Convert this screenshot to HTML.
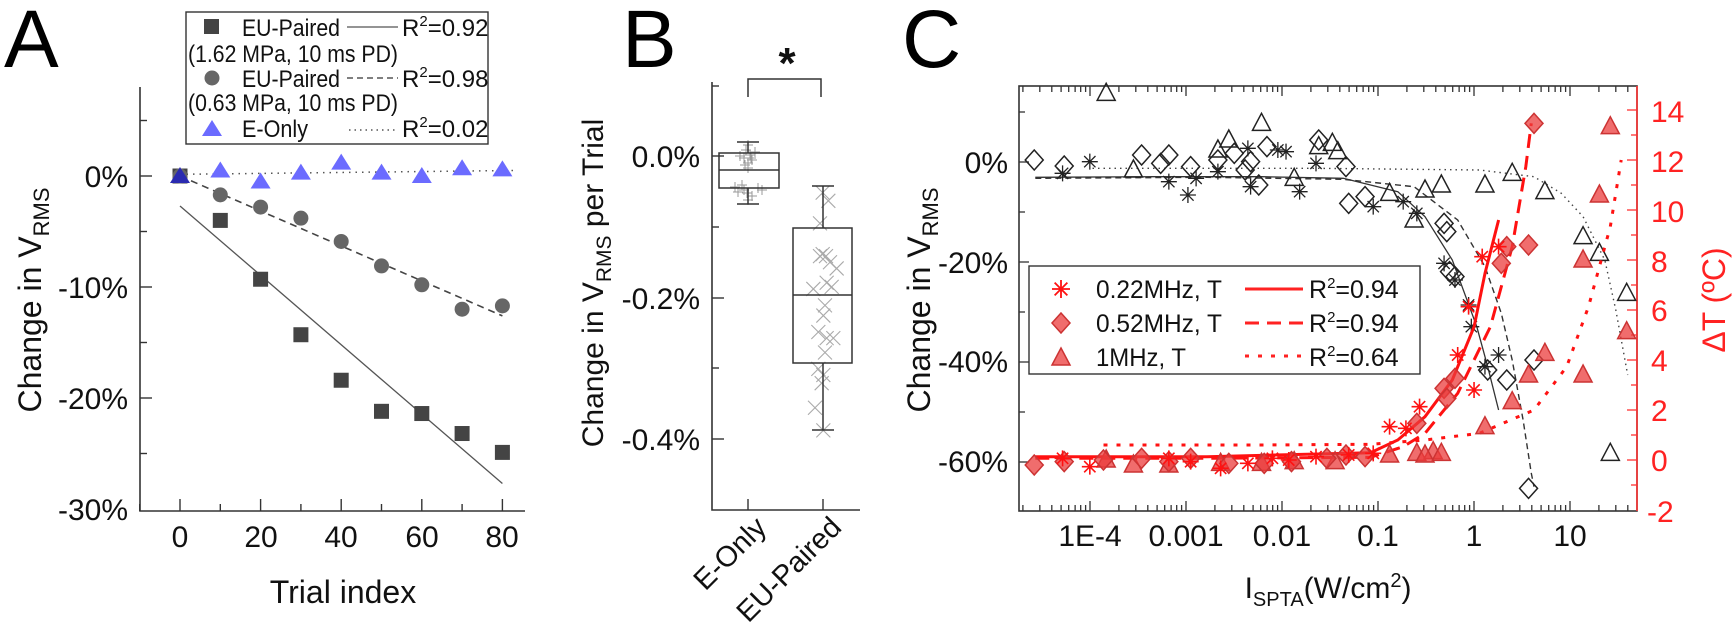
<!DOCTYPE html>
<html><head><meta charset="utf-8"><style>
html,body{margin:0;padding:0;background:#fff;}
svg{display:block;font-family:"Liberation Sans",Arial,sans-serif;}
</style></head><body>
<svg id="s" width="1733" height="644" viewBox="0 0 1733 644" xmlns="http://www.w3.org/2000/svg">
<rect width="1733" height="644" fill="#fff"/>
<text x="4" y="67" font-size="82">A</text>
<text x="622" y="67" font-size="82">B</text>
<text x="902" y="67" font-size="82">C</text>

<g stroke="#333" stroke-width="1.6" fill="none">
<path d="M140,87 V511 H525"/>
</g>
<g id="Aticks" stroke="#333" stroke-width="1.4"></g>
<g font-size="30" text-anchor="end" fill="#111">
<text x="128" y="187">0%</text>
<text x="128" y="298">-10%</text>
<text x="128" y="409">-20%</text>
<text x="128" y="520">-30%</text>
</g>
<g font-size="30" text-anchor="middle" fill="#111">
<text x="180" y="547">0</text>
<text x="261" y="547">20</text>
<text x="341" y="547">40</text>
<text x="422" y="547">60</text>
<text x="502" y="547">80</text>
<text x="343" y="603" font-size="32">Trial index</text>
</g>
<text transform="translate(41,300) rotate(-90)" font-size="32" text-anchor="middle" fill="#111">Change in V<tspan font-size="22" dy="8">RMS</tspan></text>
<g id="Adata"></g>
<rect x="186" y="12" width="302" height="132" fill="#fff" stroke="#333" stroke-width="1.4"/>
<g font-size="24" fill="#111">
<rect x="204" y="19" width="15" height="15" fill="#444"/>
<text x="242" y="36" textLength="98" lengthAdjust="spacingAndGlyphs">EU-Paired</text>
<line x1="347" y1="27" x2="398" y2="27" stroke="#555" stroke-width="1.2"/>
<text x="402" y="36">R<tspan font-size="15" dy="-10">2</tspan><tspan dy="10">=0.92</tspan></text>
<text x="188" y="62" textLength="210" lengthAdjust="spacingAndGlyphs">(1.62 MPa, 10 ms PD)</text>
<circle cx="212" cy="78" r="7.5" fill="#666"/>
<text x="242" y="87" textLength="98" lengthAdjust="spacingAndGlyphs">EU-Paired</text>
<line x1="347" y1="78" x2="398" y2="78" stroke="#555" stroke-width="1.4" stroke-dasharray="6,4"/>
<text x="402" y="87">R<tspan font-size="15" dy="-10">2</tspan><tspan dy="10">=0.98</tspan></text>
<text x="188" y="111" textLength="210" lengthAdjust="spacingAndGlyphs">(0.63 MPa, 10 ms PD)</text>
<polygon points="212,120 202,136 222,136" fill="#6b6bff"/>
<text x="242" y="137" textLength="66" lengthAdjust="spacingAndGlyphs">E-Only</text>
<line x1="349" y1="130" x2="398" y2="130" stroke="#555" stroke-width="1.4" stroke-dasharray="1.5,4"/>
<text x="402" y="137">R<tspan font-size="15" dy="-10">2</tspan><tspan dy="10">=0.02</tspan></text>
</g>

<path d="M712,82 V510 H860" stroke="#333" stroke-width="1.6" fill="none"/>
<g stroke="#333" stroke-width="1.4">
<line x1="712" y1="156" x2="724" y2="156"/><line x1="712" y1="227" x2="719" y2="227"/>
<line x1="712" y1="298" x2="724" y2="298"/><line x1="712" y1="368" x2="719" y2="368"/>
<line x1="712" y1="439" x2="724" y2="439"/><line x1="712" y1="86" x2="719" y2="86"/>
<line x1="748" y1="510" x2="748" y2="499"/><line x1="823" y1="510" x2="823" y2="499"/>
</g>
<g font-size="30" text-anchor="end" fill="#111">
<text x="700" y="167">0.0%</text>
<text x="700" y="309">-0.2%</text>
<text x="700" y="450">-0.4%</text>
</g>
<text transform="translate(603,283) rotate(-90)" font-size="30" text-anchor="middle" fill="#111">Change in V<tspan font-size="21" dy="8">RMS</tspan><tspan dy="-8"> per Trial</tspan></text>
<g font-size="29" fill="#111" text-anchor="end">
<text transform="translate(768,529) rotate(-45)" x="0" y="0">E-Only</text>
<text transform="translate(843,529) rotate(-45)" x="0" y="0">EU-Paired</text>
</g>
<g id="Bdata"></g>
<g stroke="#333" stroke-width="1.5" fill="none">
<rect x="719" y="153" width="60" height="35"/><line x1="719" y1="170" x2="779" y2="170"/>
<line x1="748" y1="153" x2="748" y2="142"/><line x1="737" y1="142" x2="759" y2="142"/>
<line x1="748" y1="188" x2="748" y2="204"/><line x1="737" y1="204" x2="759" y2="204"/>
<rect x="793" y="228" width="59" height="135"/><line x1="793" y1="295" x2="852" y2="295"/>
<line x1="823" y1="228" x2="823" y2="186"/><line x1="812" y1="186" x2="834" y2="186"/>
<line x1="823" y1="363" x2="823" y2="430"/><line x1="812" y1="430" x2="834" y2="430"/>
<path d="M748,97 V79 H821 V97"/>
</g>
<text x="787" y="78" font-size="44" font-weight="bold" text-anchor="middle" fill="#111">*</text>

<rect x="1019" y="86" width="618" height="425" fill="none" stroke="#333" stroke-width="1.6"/>
<line x1="1637" y1="86" x2="1637" y2="511" stroke="#f33" stroke-width="1.6"/>
<g id="Cticks"></g>
<g font-size="30" text-anchor="end" fill="#111">
<text x="1008" y="173">0%</text>
<text x="1008" y="273">-20%</text>
<text x="1008" y="372">-40%</text>
<text x="1008" y="472">-60%</text>
</g>
<g font-size="30" text-anchor="start" fill="#f22">
<text x="1651" y="122">14</text><text x="1651" y="172">12</text><text x="1651" y="222">10</text>
<text x="1651" y="272">8</text><text x="1651" y="321">6</text><text x="1651" y="371">4</text>
<text x="1651" y="421">2</text><text x="1651" y="471">0</text><text x="1647" y="522">-2</text>
</g>
<g font-size="30" text-anchor="middle" fill="#111">
<text x="1090" y="546">1E-4</text><text x="1186" y="546">0.001</text><text x="1282" y="546">0.01</text>
<text x="1378" y="546">0.1</text><text x="1474" y="546">1</text><text x="1570" y="546">10</text>
</g>
<text x="1328" y="598" font-size="30" text-anchor="middle" fill="#111">I<tspan font-size="20" dy="8">SPTA</tspan><tspan dy="-8">(W/cm</tspan><tspan font-size="20" dy="-11">2</tspan><tspan dy="11">)</tspan></text>
<text transform="translate(930,300) rotate(-90)" font-size="32" text-anchor="middle" fill="#111">Change in V<tspan font-size="22" dy="8">RMS</tspan></text>
<text transform="translate(1725,300) rotate(-90)" font-size="32" text-anchor="middle" fill="#f22">ΔT (ºC)</text>
<g id="Cdata"></g>
<rect x="1029" y="266" width="391" height="108" fill="#fff" stroke="#333" stroke-width="1.4"/>
<g id="Cleg"></g>
<g font-size="25" fill="#111">
<text x="1096" y="298" textLength="126" lengthAdjust="spacingAndGlyphs">0.22MHz, T</text>
<text x="1096" y="332" textLength="126" lengthAdjust="spacingAndGlyphs">0.52MHz, T</text>
<text x="1096" y="366" textLength="90" lengthAdjust="spacingAndGlyphs">1MHz, T</text>
<text x="1309" y="298">R<tspan font-size="15" dy="-10">2</tspan><tspan dy="10">=0.94</tspan></text>
<text x="1309" y="332">R<tspan font-size="15" dy="-10">2</tspan><tspan dy="10">=0.94</tspan></text>
<text x="1309" y="366">R<tspan font-size="15" dy="-10">2</tspan><tspan dy="10">=0.64</tspan></text>
</g>
<g stroke="#f22" stroke-width="3" fill="none">
<line x1="1245" y1="289" x2="1303" y2="289"/>
<line x1="1245" y1="323" x2="1303" y2="323" stroke-dasharray="14,8"/>
<line x1="1245" y1="356" x2="1303" y2="356" stroke-dasharray="4,9"/>
</g>
</svg>
<script>
var NS="http://www.w3.org/2000/svg";
function el(p,t,a){var e=document.createElementNS(NS,t);for(var k in a)e.setAttribute(k,a[k]);document.getElementById(p).appendChild(e);return e;}
function xA(t){return 180+4.03*t;} function yA(v){return 176-11.1*v;}
[5,0,-5,-10,-15,-20,-25].forEach(function(v){var L=(v%10==0)?12:7;el("Aticks","line",{x1:140,y1:yA(v),x2:140+L,y2:yA(v)});});
[-10,0,10,20,30,40,50,60,70,80].forEach(function(t){var L=(t%20==0)?12:7;el("Aticks","line",{x1:xA(t),y1:511,x2:xA(t),y2:511-L});});
el("Adata","line",{x1:xA(0),y1:yA(-2.7),x2:xA(80),y2:yA(-27.7),stroke:"#555","stroke-width":1.3});
el("Adata","line",{x1:xA(0),y1:yA(0),x2:xA(80),y2:yA(-12.6),stroke:"#444","stroke-width":1.6,"stroke-dasharray":"7,5"});
el("Adata","line",{x1:xA(0),y1:yA(0.15),x2:xA(83),y2:yA(0.5),stroke:"#555","stroke-width":1.5,"stroke-dasharray":"1.5,5"});
var sq=[0,-4,-9.3,-14.3,-18.4,-21.2,-21.4,-23.2,-24.9];
var ci=[0,-1.7,-2.8,-3.8,-5.9,-8.1,-9.8,-12.0,-11.7];
var tr=[0,0.5,-0.5,0.3,1.2,0.3,0.0,0.7,0.6];
sq.forEach(function(v,i){el("Adata","rect",{x:xA(i*10)-7.5,y:yA(v)-7.5,width:15,height:15,fill:"#444"});});
ci.forEach(function(v,i){el("Adata","circle",{cx:xA(i*10),cy:yA(v),r:7.5,fill:"#666"});});
tr.forEach(function(v,i){var x=xA(i*10),y=yA(v);el("Adata","polygon",{points:(x)+","+(y-9)+" "+(x-10)+","+(y+7)+" "+(x+10)+","+(y+7),fill:i==0?"#2a2ab0":"#6b6bff"});});
var ep=[[748,145],[746,150],[750,155],[744,158],[752,160],[748,163],[745,165],[751,158],[740,156],[755,152],[748,168],[742,185],[735,187],[758,188],[762,190],[747,193],[752,196],[748,200],[744,190],[738,192]];
ep.forEach(function(p){el("Bdata","path",{d:"M"+(p[0]-5)+","+p[1]+"h10M"+p[0]+","+(p[1]-5)+"v10",stroke:"#999","stroke-width":1});});
var xp=[[428,470],[445,490],[420,545],[420,625],[438,625],[470,655],[440,690],[400,705],[455,700],[435,745],[430,770],[415,810],[440,825],[460,825],[435,860],[415,900],[430,915],[425,935],[405,995],[430,1050],[428,620],[450,640]];
xp.forEach(function(p){var x=680+p[0]/3,y=p[1]/2.44;el("Bdata","path",{d:"M"+(x-7)+","+(y-7)+"l14,14M"+(x-7)+","+(y+7)+"l14,-14",stroke:"#aaa","stroke-width":1.1});});
function xC(I){return 1474+96*Math.log10(I);}
for(var d=-5;d<=1;d++){for(var k=1;k<=9;k++){var x=xC(k*Math.pow(10,d));if(x<1021||x>1635)continue;var L=k==1?10:6;
el("Cticks","line",{x1:x,y1:511,x2:x,y2:511-L,stroke:"#333","stroke-width":1.3});
el("Cticks","line",{x1:x,y1:86,x2:x,y2:86+L,stroke:"#333","stroke-width":1.3});}}
for(var v=10;v>=-60;v-=10){var y=162-5*v;var L=(v%20==0)?10:6;el("Cticks","line",{x1:1019,y1:y,x2:1019+L,y2:y,stroke:"#333","stroke-width":1.3});}
for(var T=-1;T<=14;T++){var y=460-25*T;var L=(T%2==0)?10:6;el("Cticks","line",{x1:1637,y1:y,x2:1637-L,y2:y,stroke:"#f33","stroke-width":1.3});}
function X(z){return 880+0.545*z;} function Y(z){return 60+z/3;}
function curve(pts,a){var d="";pts.forEach(function(p,i){d+=(i?"L":"M")+X(p[0]).toFixed(1)+","+Y(p[1]).toFixed(1);});a.d=d;a.fill="none";el("Cdata","path",a);}
function star(x,y,c,w){var r=8,d="";for(var i=0;i<4;i++){var a=i*Math.PI/4;d+="M"+(x-r*Math.cos(a))+","+(y-r*Math.sin(a))+"L"+(x+r*Math.cos(a))+","+(y+r*Math.sin(a));}el("Cdata","path",{d:d,stroke:c,"stroke-width":w});}
function diam(x,y,f,s,g){el(g||"Cdata","polygon",{points:x+","+(y-10)+" "+(x+9)+","+y+" "+x+","+(y+10)+" "+(x-9)+","+y,fill:f,stroke:s,"stroke-width":1.5});}
function tri(x,y,f,s,g){el(g||"Cdata","polygon",{points:x+","+(y-10)+" "+(x+9)+","+(y+7)+" "+(x-9)+","+(y+7),fill:f,stroke:s,"stroke-width":1.5});}
curve([[285,352],[500,350],[700,350],[850,355],[950,395],[1000,470],[1050,600],[1095,800],[1115,920],[1135,1050]],{stroke:"#333","stroke-width":1.3});
curve([[285,355],[600,352],[850,358],[980,380],[1060,480],[1110,620],[1140,760],[1160,900],[1180,1080],[1195,1240],[1200,1280]],{stroke:"#333","stroke-width":1.4,"stroke-dasharray":"6,4"});
curve([[390,325],[800,325],[1100,330],[1200,350],[1250,400],[1290,470],[1330,600],[1350,750],[1372,945]],{stroke:"#444","stroke-width":1.4,"stroke-dasharray":"1.5,4"});
[[415,100],[465,330],[640,240],[700,190],[760,355],[805,260],[840,275],[935,400],[980,480],[1000,390],[1030,375],[1110,375],[1160,340],[1220,395],[1290,530],[1320,580],[1370,700],[1340,1180],[620,270],[830,250]].forEach(function(p){tri(X(p[0]),Y(p[1]),"none","#222");});
[[283,300],[338,318],[480,285],[530,285],[515,310],[570,320],[620,300],[680,305],[695,375],[710,260],[805,240],[855,320],[860,430],[890,410],[1035,490],[1040,515],[1045,635],[1055,650],[1115,930],[1150,960],[1200,900],[1190,1285],[650,280],[670,330]].forEach(function(p){diam(X(p[0]),Y(p[1]),"none","#222");});
[[335,340],[385,305],[530,365],[565,405],[580,355],[620,335],[675,265],[680,380],[730,270],[745,275],[770,395],[800,310],[905,440],[960,425],[985,460],[1035,610],[1055,660],[1080,735],[1085,800],[1110,920],[1135,885]].forEach(function(p){star(X(p[0]),Y(p[1]),"#222",1.3);});
curve([[285,1190],[600,1190],[900,1178],[950,1140],[1000,1070],[1050,960],[1090,800],[1110,640],[1135,480]],{stroke:"#f11","stroke-width":3});
curve([[285,1195],[600,1195],[900,1192],[960,1160],[1000,1120],[1060,1000],[1120,800],[1160,560],[1185,320],[1195,190]],{stroke:"#f11","stroke-width":3,"stroke-dasharray":"14,8"});
curve([[410,1155],[700,1155],[900,1153],[1000,1140],[1100,1120],[1200,1050],[1260,920],[1300,740],[1340,500],[1360,300]],{stroke:"#f11","stroke-width":3,"stroke-dasharray":"4,9"});
var rf="rgba(235,60,60,0.75)",rs="#c33";
[[415,1200],[465,1215],[530,1215],[625,1210],[700,1210],[760,1205],[835,1205],[935,1185],[985,1180],[1015,1175],[1030,1180],[1110,1100],[1160,1025],[1220,880],[1290,945],[1320,405],[1340,200],[1290,600],[1370,815],[1190,945],[1000,1185]].forEach(function(p){tri(X(p[0]),Y(p[1]),rf,rs);});
[[283,1215],[338,1205],[410,1200],[480,1195],[530,1205],[570,1195],[640,1210],[705,1210],[755,1205],[820,1195],[855,1185],[890,1190],[985,1090],[1035,985],[1040,1015],[1055,955],[1140,610],[1150,560],[1190,555],[1200,190]].forEach(function(p){diam(X(p[0]),Y(p[1]),rf,rs);});
[[335,1195],[385,1220],[530,1195],[570,1205],[625,1225],[675,1210],[720,1195],[750,1200],[800,1190],[860,1185],[905,1180],[935,1100],[965,1105],[990,1040],[1060,885],[1080,740],[1090,990],[1105,590],[1135,560]].forEach(function(p){star(X(p[0]),Y(p[1]),"#f11",1.6);});
(function(){var x=1061;var y=289,r=9,d="";for(var i=0;i<4;i++){var a=i*Math.PI/4;d+="M"+(x-r*Math.cos(a))+","+(y-r*Math.sin(a))+"L"+(x+r*Math.cos(a))+","+(y+r*Math.sin(a));}el("Cleg","path",{d:d,stroke:"#f11","stroke-width":1.8});
diam(1061,323,rf,rs,"Cleg");tri(1061,358,rf,rs,"Cleg");})();
</script>
</body></html>
